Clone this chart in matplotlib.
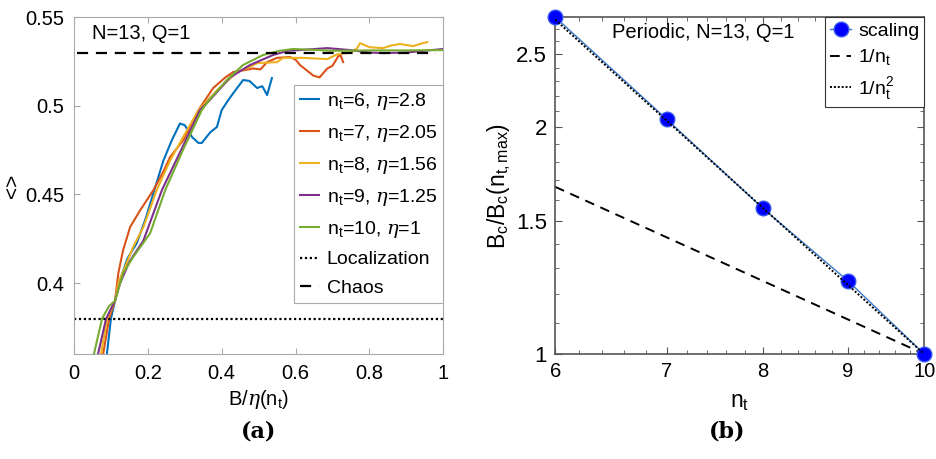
import numpy as np
import matplotlib
matplotlib.use("Agg")
import matplotlib.pyplot as plt
from matplotlib.ticker import FixedLocator, NullFormatter, FixedFormatter

plt.rcParams['font.family'] = ['Liberation Sans', 'DejaVu Sans']
plt.rcParams['mathtext.fontset'] = 'custom'
plt.rcParams['mathtext.rm'] = 'Liberation Sans'
plt.rcParams['mathtext.it'] = 'DejaVu Serif:italic'

# ---------------- data (a) ----------------
x6 = [0.089, 0.100, 0.111, 0.125, 0.145, 0.170, 0.195, 0.215, 0.242, 0.265, 0.287, 0.300, 0.320, 0.337,
      0.346, 0.369, 0.387, 0.400, 0.414, 0.431, 0.458, 0.475, 0.496, 0.510, 0.523, 0.536]
y6 = [0.360, 0.380, 0.390, 0.402, 0.414, 0.4225, 0.437, 0.4507, 0.469, 0.4806, 0.490, 0.489, 0.4823, 0.479,
      0.479, 0.485, 0.488, 0.4975, 0.502, 0.507, 0.5145, 0.514, 0.510, 0.511, 0.506, 0.5156]

x7 = [0.079, 0.095, 0.111, 0.120, 0.133, 0.152, 0.179, 0.215, 0.240, 0.260, 0.296, 0.337, 0.377, 0.410,
      0.431, 0.460, 0.485, 0.505, 0.523, 0.550, 0.585, 0.600, 0.612, 0.630, 0.648, 0.665, 0.686, 0.700,
      0.716, 0.722, 0.729]
y7 = [0.360, 0.380, 0.390, 0.4056, 0.4186, 0.4316, 0.441, 0.4524, 0.462, 0.471, 0.4806, 0.4975, 0.510, 0.516,
      0.519, 0.520, 0.521, 0.5205, 0.5246, 0.527, 0.5275, 0.526, 0.523, 0.520, 0.517, 0.516, 0.521, 0.5225,
      0.528, 0.5285, 0.5246]

x8 = [0.073, 0.090, 0.111, 0.120, 0.140, 0.160, 0.188, 0.224, 0.260, 0.300, 0.337, 0.388, 0.442, 0.477,
      0.496, 0.550, 0.566, 0.620, 0.686, 0.713, 0.750, 0.767, 0.775, 0.800, 0.837, 0.860, 0.883, 0.919,
      0.940, 0.957]
y8 = [0.360, 0.380, 0.390, 0.400, 0.410, 0.4203, 0.4316, 0.4524, 0.469, 0.484, 0.4975, 0.5088, 0.519, 0.522,
      0.524, 0.5246, 0.527, 0.527, 0.5263, 0.529, 0.530, 0.5325, 0.5353, 0.533, 0.5325, 0.534, 0.5348, 0.5336,
      0.535, 0.5359]

x9 = [0.065, 0.087, 0.111, 0.125, 0.150, 0.188, 0.238, 0.290, 0.341, 0.369, 0.423, 0.477, 0.539, 0.580,
      0.620, 0.686, 0.748, 0.800, 0.837, 0.900, 0.950, 1.000]
y9 = [0.360, 0.380, 0.390, 0.400, 0.412, 0.424, 0.4524, 0.475, 0.4975, 0.5035, 0.516, 0.523, 0.5286, 0.531,
      0.5315, 0.5325, 0.5314, 0.530, 0.5297, 0.530, 0.531, 0.532]

x10 = [0.054, 0.065, 0.076, 0.095, 0.111, 0.133, 0.160, 0.206, 0.247, 0.295, 0.346, 0.369, 0.414, 0.458,
       0.512, 0.558, 0.594, 0.650, 0.700, 0.800, 0.900, 1.000]
y10 = [0.360, 0.370, 0.380, 0.387, 0.390, 0.4056, 0.4146, 0.428, 0.4524, 0.475, 0.4975, 0.504, 0.5145, 0.523,
       0.5286, 0.531, 0.532, 0.5315, 0.531, 0.5312, 0.5312, 0.5314]

labels_a = [r'n$_{\rm t}$=6, $\eta$=2.8', r'n$_{\rm t}$=7, $\eta$=2.05', r'n$_{\rm t}$=8, $\eta$=1.56',
            r'n$_{\rm t}$=9, $\eta$=1.25', r'n$_{\rm t}$=10, $\eta$=1']
colors = ['#0072BD', '#D95319', '#EDB120', '#7E2F8E', '#77AC30']
r_loc = 0.38
r_chaos = 0.53

# ---------------- data (b) ----------------
nt = [6, 7, 8, 9, 10]
eta = [2.8, 2.05, 1.56, 1.25, 1.0]

fig = plt.figure(figsize=(9.37, 4.59), dpi=100)

# ---------------- panel (a) ----------------
axa = fig.add_axes([0.079, 0.2288, 0.394, 0.734])
for xs, ys, c, lab in zip([x6, x7, x8, x9, x10], [y6, y7, y8, y9, y10], colors, labels_a):
    axa.plot(xs, ys, color=c, lw=1.5, label=lab)
axa.axhline(r_loc, xmin=0.0, xmax=1.0, color='black', ls=(0, (1, 1.2)), lw=1.6, label='Localization')
axa.plot([0.008, 0.98], [r_chaos, r_chaos], color='black', ls=(0, (5, 3.5)), lw=1.6, label='Chaos')
axa.set_xlim(0, 1)
axa.set_ylim(0.36, 0.55)
axa.set_xticks([0, 0.2, 0.4, 0.6, 0.8, 1])
axa.set_xticklabels(['0', '0.2', '0.4', '0.6', '0.8', '1'])
axa.set_yticks([0.4, 0.45, 0.5, 0.55])
axa.set_yticklabels(['0.4', '0.45', '0.5', '0.55'])
axa.tick_params(direction='in', length=4, labelsize=14.5, top=True, right=True, color='#aaaaaa', pad=7)
for s in axa.spines.values():
    s.set_color('#aaaaaa')
axa.set_xlabel(r'B/$\eta$(n$_{\rm t}$)', fontsize=14.5, labelpad=4)
axa.set_ylabel('<>', fontsize=15, labelpad=2)
axa.text(0.05, 0.5405, 'N=13, Q=1', fontsize=14.5, ha='left', va='center')
leg = axa.legend(loc='upper right', bbox_to_anchor=(1.0, 0.797), fontsize=14, handlelength=1.0,
                 handletextpad=0.4, labelspacing=0.56, borderpad=0.3, fancybox=False, framealpha=1,
                 borderaxespad=0)
leg.get_frame().set_edgecolor('#aaaaaa')
leg.get_frame().set_linewidth(0.8)

# ---------------- panel (b) ----------------
axb = fig.add_axes([0.5925, 0.2288, 0.3938, 0.734])
nt_a = np.array(nt, dtype=float)
scal = np.array(eta) / eta[-1]
axb.plot(nt_a, scal, color='#3a78c9', lw=1.0, marker='o', ms=10.5, mfc='#0000ff', mec='#3355ee',
         label='scaling', zorder=3, clip_on=False)
axb.plot(nt_a, nt_a[-1] / nt_a, color='black', ls=(0, (5, 3.5)), lw=1.4, label=r'1/n$_{\rm t}$')
axb.plot(nt_a, (nt_a[-1] / nt_a) ** 2, color='black', ls=(0, (1, 1)), lw=1.4, label=r'1/n$_{\rm t}^2$',
         zorder=4)
axb.set_xscale('log')
axb.set_yscale('log')
axb.set_xlim(6, 10)
axb.set_ylim(1, 2.8)
axb.xaxis.set_major_locator(FixedLocator([6, 7, 8, 9, 10]))
axb.xaxis.set_major_formatter(FixedFormatter(['6', '7', '8', '9', '10']))
axb.xaxis.set_minor_locator(FixedLocator([v for v in np.arange(6.2, 10.0, 0.2) if abs(v - round(v)) > 1e-6]))
axb.xaxis.set_minor_formatter(NullFormatter())
axb.yaxis.set_major_locator(FixedLocator([1, 1.5, 2, 2.5]))
axb.yaxis.set_major_formatter(FixedFormatter(['1', '1.5', '2', '2.5']))
axb.yaxis.set_minor_locator(FixedLocator([v for v in np.arange(1.1, 2.8, 0.1) if abs(v * 2 - round(v * 2)) > 1e-6]))
axb.yaxis.set_minor_formatter(NullFormatter())
axb.tick_params(which='both', direction='in', top=True, right=True, color='#555555', labelsize=16)
axb.tick_params(axis='x', labelsize=14.5)
axb.tick_params(which='major', length=5, pad=6)
axb.tick_params(which='minor', length=3)
for s in axb.spines.values():
    s.set_color('#555555')
    s.set_linewidth(1.2)
axb.set_xlabel(r'n$_{\rm t}$', fontsize=16.5, labelpad=6)
axb.set_ylabel(r'B$_{\rm c}$/B$_{\rm c}$(n$_{\rm t,max}$)', fontsize=16.5, labelpad=2)
axb.text(0.40, 0.955, 'Periodic, N=13, Q=1', transform=axb.transAxes, fontsize=14.5, ha='center', va='center')
legb = axb.legend(loc='upper right', bbox_to_anchor=(1.0, 1.0), fontsize=14, handlelength=1.1,
                  handletextpad=0.35, labelspacing=0.4, borderpad=0.25, fancybox=False, framealpha=1,
                  borderaxespad=0)
legb.get_frame().set_edgecolor('#333333')
legb.get_frame().set_linewidth(0.8)

# captions
fig.text(0.2755, 0.059, '(a)', fontsize=16, fontweight='bold', family='DejaVu Serif', ha='center', va='center')
fig.text(0.776, 0.059, '(b)', fontsize=16, fontweight='bold', family='DejaVu Serif', ha='center', va='center')

fig.savefig('out.png', dpi=100)
